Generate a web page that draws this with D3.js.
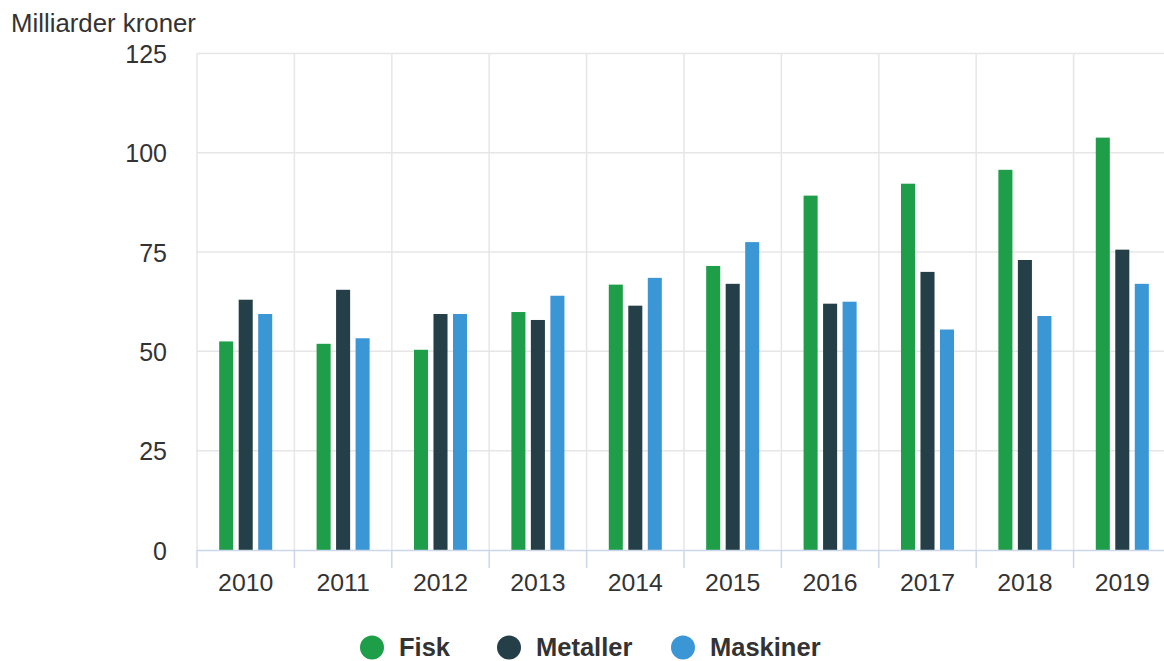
<!DOCTYPE html>
<html>
<head>
<meta charset="utf-8">
<script src="https://cdn.jsdelivr.net/npm/d3@7"></script>
<style>
  html, body { margin: 0; padding: 0; background: #ffffff; }
  svg { display: block; font-family: "Liberation Sans", Arial, sans-serif; }
</style>
</head>
<body>
<svg id="chart" width="1164" height="661"></svg>
<script>
// Eksport per år, milliarder kroner
const years = ["2010", "2011", "2012", "2013", "2014", "2015", "2016", "2017", "2018", "2019"];
const fisk     = [52.5, 51.9, 50.4, 59.9, 66.8, 71.5, 89.2, 92.2, 95.7, 103.8];
const metaller = [63.0, 65.5, 59.4, 57.9, 61.5, 67.0, 62.0, 70.0, 73.0, 75.6];
const maskiner = [59.4, 53.3, 59.4, 64.0, 68.5, 77.5, 62.5, 55.5, 58.9, 67.0];
const seriesNames = ["Fisk", "Metaller", "Maskiner"];
const seriesColors = ["#1f9e4a", "#243f47", "#3b96d6"];
const yTicks = [0, 25, 50, 75, 100, 125];

const seriesValues = [fisk, metaller, maskiner];
const svg = d3.select("#chart");

const plotLeft = 197, plotRight = 1171, plotTop = 53.4, plotBottom = 550;

const x0 = d3.scaleBand().domain(years).range([plotLeft, plotRight]);
const groupWidth = 58.5;
const x1 = d3.scaleBand().domain(seriesNames)
  .range([(x0.bandwidth() - groupWidth) / 2, (x0.bandwidth() + groupWidth) / 2])
  .paddingInner(0.28).paddingOuter(0.14);
const y = d3.scaleLinear().domain([0, 125]).range([plotBottom, plotTop]);

// Horizontal gridlines
svg.append("g").selectAll("line").data(yTicks.filter(d => d > 0)).join("line")
  .attr("x1", plotLeft).attr("x2", plotRight)
  .attr("y1", d => y(d)).attr("y2", d => y(d))
  .attr("stroke", "#e6e6e6").attr("stroke-width", 1.5);

// Vertical gridlines at category boundaries
const boundaries = years.map(d => x0(d)).concat([plotRight]);
svg.append("g").selectAll("line").data(boundaries).join("line")
  .attr("x1", d => d).attr("x2", d => d)
  .attr("y1", plotTop).attr("y2", plotBottom)
  .attr("stroke", "#e6e6e6").attr("stroke-width", 1.5);

// Y axis labels
svg.append("g").selectAll("text").data(yTicks).join("text")
  .attr("x", 167).attr("y", d => y(d) + 9.5)
  .attr("text-anchor", "end")
  .attr("font-size", 25).attr("fill", "#333333")
  .text(d => d);

// Axis title
svg.append("text")
  .attr("x", 11).attr("y", 32)
  .attr("font-size", 25.8).attr("fill", "#333333")
  .text("Milliarder kroner");

// Bars
const rows = years.map((yr, i) => ({ year: yr, vals: seriesNames.map((s, j) => ({ key: s, value: seriesValues[j][i], color: seriesColors[j] })) }));
const groups = svg.append("g").selectAll("g").data(rows).join("g")
  .attr("transform", d => `translate(${x0(d.year)},0)`);
groups.selectAll("rect").data(d => d.vals).join("rect")
  .attr("x", d => x1(d.key))
  .attr("width", x1.bandwidth())
  .attr("y", d => y(d.value))
  .attr("height", d => y(0) - y(d.value))
  .attr("fill", d => d.color);

// X axis line, ticks and labels
const xAxis = svg.append("g");
xAxis.append("line")
  .attr("x1", plotLeft).attr("x2", plotRight)
  .attr("y1", plotBottom + 0.5).attr("y2", plotBottom + 0.5)
  .attr("stroke", "#ccd6eb").attr("stroke-width", 1.5);
xAxis.selectAll("line.tick").data(boundaries).join("line")
  .attr("class", "tick")
  .attr("x1", d => d).attr("x2", d => d)
  .attr("y1", plotBottom).attr("y2", plotBottom + 18)
  .attr("stroke", "#ccd6eb").attr("stroke-width", 1.5);
xAxis.selectAll("text").data(years).join("text")
  .attr("x", d => x0(d) + x0.bandwidth() / 2)
  .attr("y", 591)
  .attr("text-anchor", "middle")
  .attr("font-size", 24.8).attr("fill", "#333333")
  .text(d => d);

// Legend
const legendX = [372, 509, 683];
const legend = svg.append("g").selectAll("g").data(seriesNames).join("g")
  .attr("transform", (d, i) => `translate(${legendX[i]},647.5)`);
legend.append("circle").attr("r", 12).attr("fill", (d, i) => seriesColors[i]);
legend.append("text")
  .attr("x", 27).attr("y", 8.5)
  .attr("font-size", 25.5).attr("font-weight", "bold").attr("fill", "#333333")
  .text(d => d);
</script>
</body>
</html>
